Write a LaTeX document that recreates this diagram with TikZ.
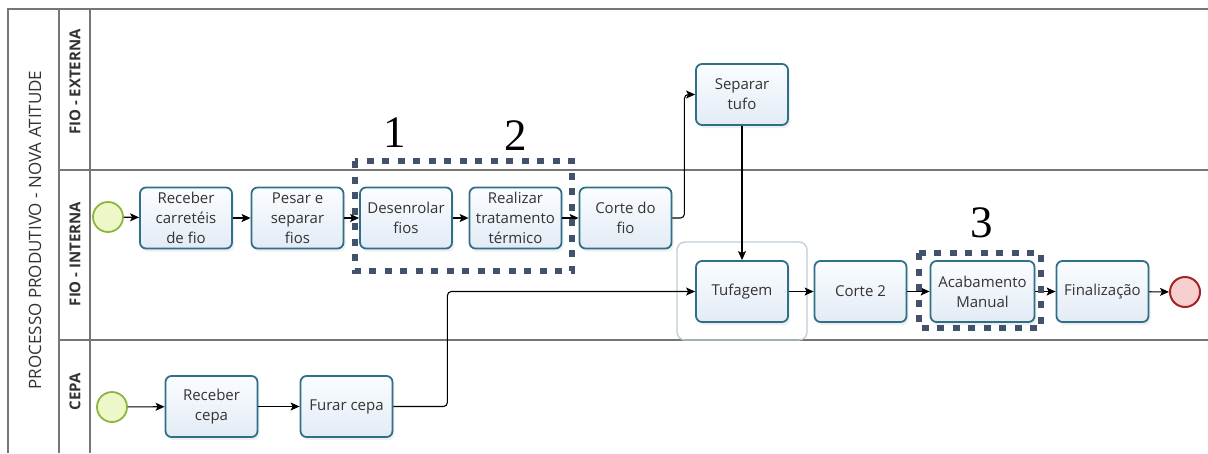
\documentclass[tikz,border=0pt]{standalone}
\usepackage{fontspec}
\setmainfont{Open Sans}
\newfontfamily\digitfont{Liberation Serif}
\usetikzlibrary{arrows.meta,shadows}

\definecolor{poolline}{HTML}{767676}
\definecolor{taskborder}{HTML}{2F6F88}
\definecolor{tasktop}{HTML}{FBFDFF}
\definecolor{taskbottom}{HTML}{E2EBF5}
\definecolor{textgray}{HTML}{333333}
\definecolor{startline}{HTML}{8DB43C}
\definecolor{startfill}{HTML}{EEF7C8}
\definecolor{endline}{HTML}{A32424}
\definecolor{endfill}{HTML}{F7CFCF}
\definecolor{markline}{HTML}{42526B}
\definecolor{groupline}{HTML}{BCCFD8}

\tikzset{
  poolrule/.style={draw=poolline, line width=1.6pt},
  tasknode/.style={rectangle, rounded corners=6pt, draw=taskborder, line width=1.8pt,
    top color=tasktop, bottom color=taskbottom,
    drop shadow={shadow xshift=2pt, shadow yshift=-3pt, opacity=0.12},
    minimum width=92pt, minimum height=61pt, inner sep=2pt, align=center,
    text=textgray, font=\fontsize{15}{20}\selectfont},
  startnode/.style={circle, draw=startline, line width=1.8pt, fill=startfill,
    minimum size=30pt, inner sep=0pt},
  endnode/.style={circle, draw=endline, line width=2pt, fill=endfill,
    minimum size=30pt, inner sep=0pt},
  flow/.style={draw=black, line width=1.1pt, rounded corners=4pt,
    -{Stealth[length=9pt,width=8pt,inset=2pt]}},
  markbox/.style={draw=markline, line width=6.5pt, dash pattern=on 7pt off 8.5pt},
  groupbox/.style={draw=groupline, line width=1.3pt, rounded corners=8pt},
  lanetitle/.style={rotate=90, text=textgray, font=\bfseries\fontsize{15}{18}\selectfont},
  pooltitle/.style={rotate=90, text=textgray, font=\fontsize{17}{20}\selectfont},
  marknum/.style={anchor=base, font=\digitfont\fontsize{45}{45}\selectfont}
}

\begin{document}
\begin{tikzpicture}[x=1pt, y=-1pt]
\useasboundingbox (0,0) rectangle (1208,453);
\fill[white] (0,0) rectangle (1208,453);

% pool and lane frame
\draw[poolrule] (8,453) -- (8,9) -- (1208,9);
\draw[poolrule] (59,9) -- (59,453);
\draw[poolrule] (90,9) -- (90,453);
\draw[poolrule] (59,170) -- (1208,170);
\draw[poolrule] (59,340) -- (1208,340);

\node[pooltitle] (pool) at (35,230) {PROCESSO PRODUTIVO - NOVA ATITUDE};
\node[lanetitle] (laneA) at (75,82) {FIO - EXTERNA};
\node[lanetitle] (laneB) at (75,254) {FIO - INTERNA};
\node[lanetitle] (laneC) at (75,392) {CEPA};

% group around the tufting task
\draw[groupbox] (677,242) rectangle (807,340);

% lane FIO - INTERNA
\node[startnode] (s1) at (108,217) {};
\node[tasknode] (t1) at (186,218) {Receber\\carretéis\\de fio};
\node[tasknode] (t2) at (297.5,218) {Pesar e\\separar\\fios};
\node[tasknode] (t3) at (406,218) {Desenrolar\\fios};
\node[tasknode] (t4) at (515.5,218) {Realizar\\tratamento\\térmico};
\node[tasknode] (t5) at (625.5,218) {Corte do\\fio};
\node[tasknode] (t7) at (742,291.5) {Tufagem};
\node[tasknode] (t8) at (860.5,291.5) {Corte 2};
\node[tasknode, minimum width=104pt] (t9) at (982.5,291.5) {Acabamento\\Manual};
\node[tasknode] (t10) at (1102.5,291.5) {Finalização};
\node[endnode] (e1) at (1185,292) {};

% lane FIO - EXTERNA
\node[tasknode] (t6) at (742,94.5) {Separar\\tufo};

% lane CEPA
\node[startnode] (s2) at (112,407) {};
\node[tasknode] (c1) at (211.5,406.5) {Receber\\cepa};
\node[tasknode] (c2) at (346.5,406.5) {Furar cepa};

% sequence flows
\draw[flow] (s1) -- (t1);
\draw[flow] (t1) -- (t2);
\draw[flow] (t2) -- (t3);
\draw[flow] (t3) -- (t4);
\draw[flow] (t4) -- (t5);
\draw[flow] (t5.east) -- ++(12,0) |- (t6.west);
\draw[flow] (t6) -- (t7);
\draw[flow] (t7) -- (t8);
\draw[flow] (t8) -- (t9);
\draw[flow] (t9) -- (t10);
\draw[flow] (t10) -- (e1);
\draw[flow] (s2) -- (c1);
\draw[flow] (c1) -- (c2);
\draw[flow] (c2.east) -- ++(54,0) |- (t7.west);

% highlighted steps
\draw[markbox] (355,161) rectangle (572,271);
\draw[markbox] (919,253) rectangle (1041,328);
\node[marknum] (n1) at (395,147) {1};
\node[marknum] (n2) at (516,150) {2};
\node[marknum] (n3) at (982,237) {3};
\end{tikzpicture}
\end{document}
